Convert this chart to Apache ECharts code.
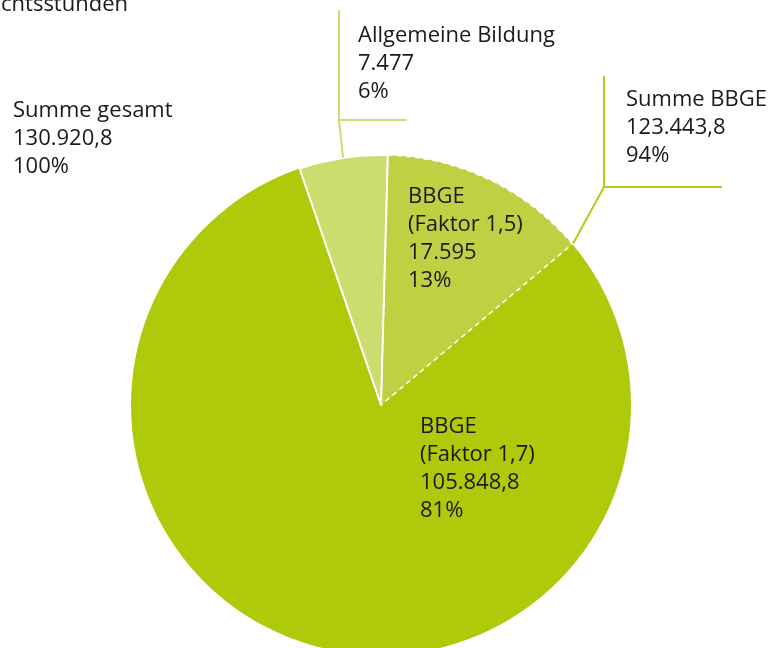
<!DOCTYPE html>
<html><head><meta charset="utf-8">
<script src="https://cdn.jsdelivr.net/npm/echarts@6/dist/echarts.min.js"></script>
<style>html,body{margin:0;padding:0;background:#fff}#c{width:771px;height:648px}</style>
</head><body><div id="c"></div>
<script>
// ---- data ----
const categories = ['Allgemeine Bildung', 'BBGE\n(Faktor 1,5)', 'BBGE\n(Faktor 1,7)'];
const values = [7477, 17595, 105848.8];
const colors = ['#cddc6f', '#bfd143', '#afca0b'];
const unitLabel = 'Unterrichtsstunden';
const sumBBGELabel = 'Summe BBGE';
const sumTotalLabel = 'Summe gesamt';

// ---- helpers ----
function fmt(v) {
  let ip = Math.floor(v);
  let fr = Math.round((v - ip) * 10);
  if (fr === 10) { ip += 1; fr = 0; }
  const s = String(ip).replace(/\B(?=(\d{3})+(?!\d))/g, '.');
  return s + (Math.abs(v - Math.round(v)) < 1e-9 ? '' : ',' + fr);
}
const total = values.reduce((a, b) => a + b, 0);
const sumBBGE = values[1] + values[2];
const pct = v => Math.round(v / total * 100) + '%';

const CX = 381, CY = 405, R = 250, START = 109;
const FONT = '"Open Sans", "Noto Sans", sans-serif';
const TXT = '#1a1a1a';
const FS = 22, LH = 28;
const LABEL_POS = [[358, 22], [408, 183], [420, 413]];

function pt(deg, r) {
  const a = deg * Math.PI / 180;
  return [CX + r * Math.cos(a), CY - r * Math.sin(a)];
}
const aAllMid = START - values[0] / total * 360 / 2;
const aBoundary = START - (values[0] + values[1]) / total * 360;

const borderStyles = [
  { color: 'rgba(0,0,0,0)', borderColor: '#ffffff', borderWidth: 2, borderType: 'solid' },
  { color: 'rgba(0,0,0,0)', borderColor: '#ffffff', borderWidth: 1.5, borderType: [5, 4] },
  { color: 'rgba(0,0,0,0)', borderWidth: 0 }
];

const chart = echarts.init(document.getElementById('c'), null, { renderer: 'canvas' });
chart.setOption({
  animation: false,
  backgroundColor: '#ffffff',
  series: [
    {
      type: 'pie',
      center: [CX, CY],
      radius: R,
      startAngle: START,
      clockwise: true,
      avoidLabelOverlap: false,
      silent: true,
      itemStyle: { borderWidth: 0 },
      data: values.map((v, i) => ({ name: categories[i], value: v, itemStyle: { color: colors[i] } })),
      label: {
        show: true,
        position: 'inside',
        color: TXT,
        fontFamily: FONT,
        fontSize: FS,
        lineHeight: LH,
        align: 'left',
        formatter: p => p.name + '\n' + fmt(p.value) + '\n' + pct(p.value)
      },
      labelLine: { show: false },
      labelLayout: params => {
        const pos = LABEL_POS[params.dataIndex];
        return { x: pos[0], y: pos[1], align: 'left', verticalAlign: 'top' };
      },
      emphasis: { disabled: true }
    },
    {
      type: 'pie',
      center: [CX, CY],
      radius: R,
      startAngle: START,
      clockwise: true,
      silent: true,
      z: 3,
      label: { show: false },
      labelLine: { show: false },
      data: values.map((v, i) => ({ name: categories[i], value: v, itemStyle: borderStyles[i] })),
      emphasis: { disabled: true }
    }
  ],
  graphic: [
    {
      type: 'text', x: 128, y: 16, z: 10,
      style: { text: unitLabel, align: 'right', verticalAlign: 'bottom', fill: TXT, font: FS + 'px ' + FONT }
    },
    {
      type: 'text', x: 13, y: 97, z: 10,
      style: { text: sumTotalLabel + '\n' + fmt(total) + '\n' + pct(total), fill: TXT, fontFamily: FONT, fontSize: FS, lineHeight: LH, align: 'left', verticalAlign: 'top' }
    },
    {
      type: 'text', x: 626, y: 86, z: 10,
      style: { text: sumBBGELabel + '\n' + fmt(sumBBGE) + '\n' + pct(sumBBGE), fill: TXT, fontFamily: FONT, fontSize: FS, lineHeight: LH, align: 'left', verticalAlign: 'top' }
    },
    {
      type: 'polyline', z: 5, silent: true,
      shape: { points: [pt(aAllMid, R), [339, 120], [339, 10]] },
      style: { stroke: '#cddc6f', lineWidth: 2, fill: null }
    },
    {
      type: 'line', z: 5, silent: true,
      shape: { x1: 339, y1: 120, x2: 407, y2: 120 },
      style: { stroke: '#cddc6f', lineWidth: 2 }
    },
    {
      type: 'polyline', z: 5, silent: true,
      shape: { points: [pt(aBoundary, R + 1), [604, 187], [604, 76]] },
      style: { stroke: '#b3cb1a', lineWidth: 2, fill: null }
    },
    {
      type: 'line', z: 5, silent: true,
      shape: { x1: 604, y1: 187, x2: 722, y2: 187 },
      style: { stroke: '#b3cb1a', lineWidth: 2 }
    }
  ]
});
</script>
</body></html>
